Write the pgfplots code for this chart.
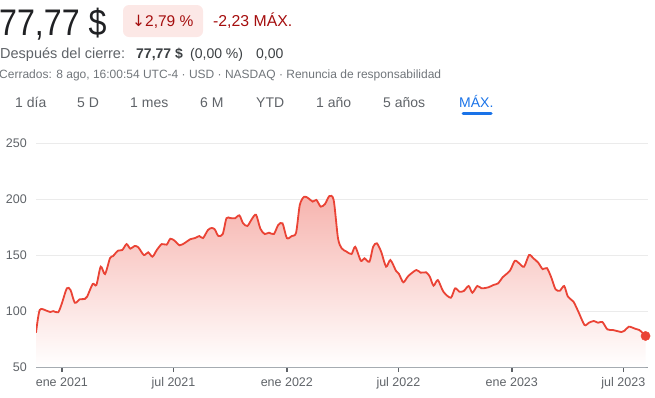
\documentclass[border=0pt]{standalone}
\usepackage{pgfplots}
\pgfplotsset{compat=1.18}
\usepackage{pgfplotstable}
\usepackage{fontspec}
\setmainfont{Liberation Sans}
\newfontfamily\dejavu{DejaVu Sans}
\definecolor{gline}{HTML}{EA4335}
\definecolor{dark}{HTML}{202124}
\definecolor{midgrey}{HTML}{3C4043}
\definecolor{lgrey}{HTML}{70757A}
\definecolor{tgrey}{HTML}{5F6368}
\definecolor{redtxt}{HTML}{A50E0E}
\definecolor{redbox}{HTML}{FCE8E6}
\definecolor{gblue}{HTML}{1A73E8}
\definecolor{gridc}{HTML}{EBEBEB}
\definecolor{axisc}{HTML}{9AA0A6}

\pgfplotstableread{
d v
-42 80.7
-36 101
-25 100.4
-19 99.2
-14 100
-6 99
0 107
8 120.4
14 118.9
21 107.5
29 110.6
37 110.8
41 113
50 124.3
56 123.4
63 139.8
70 133.2
78 147.3
83 149.3
91 154.1
98 154.7
105 160
111 155.9
118 158.3
124 157.1
133 150.2
140 152.6
147 148.7
154 154.7
162 160
170 159.5
176 164.8
183 163
191 158.9
200 161.2
208 164.3
216 165.4
223 167.2
229 165.4
237 172.6
243 174.4
248 173.2
254 167.2
261 169
267 183.1
273 183.3
281 183.1
288 185.7
294 178.6
301 176.2
308 182.2
315 186.3
322 173.8
329 169
336 170.2
344 169
351 177.1
358 178.6
365 165.4
373 167.2
380 170.2
386 195
393 202.4
400 201
407 198
413 199.5
420 193.5
427 195.9
434 203
441 199.4
448 165.2
454 156.2
462 153.2
470 151.1
476 157.6
485 145.1
491 147.3
499 144.2
505 157.6
511 160.7
518 153.2
526 139.8
533 145.7
542 136.2
547 133.2
554 125.8
562 131.4
575 136.8
582 134.4
591 134.7
597 130.8
603 122.8
610 127.8
619 117.4
631 112
638 120.4
645 117.4
652 118
660 122.5
666 116.5
674 122.5
681 120.4
692 121.3
700 123.4
708 124.9
715 130.2
727 136.2
735 145.1
743 142.2
750 139.8
758 150.2
765 147.3
773 143.3
780 137.6
787 138.5
794 130.2
801 119.5
808 118.3
815 122.5
821 113
830 108.5
838 99.5
848 87.6
855 89.6
863 91.2
870 89.6
877 90.3
885 83.7
894 83.1
908 81.3
913 82.5
920 86.1
930 84.3
937 83.1
947 77.77
}\pricedata

\begin{document}
\begin{tikzpicture}[x=1pt,y=1pt]
\useasboundingbox (0,0) rectangle (655,-397);
% header
\node[anchor=base west, inner sep=0, text=dark, font=\fontsize{37}{37}\selectfont] at (-1,-35) {\scalebox{0.87}[1]{77,77 \$}};
\fill[redbox, rounded corners=6pt] (123,-5) rectangle (203,-37);
\node[anchor=base west, inner sep=0, text=redtxt, font=\fontsize{15.5}{15.5}\selectfont] at (132,-26) {{\dejavu ↓}2,79 \%};
\node[anchor=base west, inner sep=0, text=redtxt, font=\fontsize{15.8}{15.8}\selectfont] at (213,-26) {-2,23 MÁX.};
\node[anchor=base west, inner sep=0, text=tgrey, font=\fontsize{14.5}{14.5}\selectfont] at (0,-58) {Después del cierre:};
\node[anchor=base west, inner sep=0, text=midgrey, font=\fontsize{14}{14}\selectfont\bfseries] at (136,-58) {77,77 \$};
\node[anchor=base west, inner sep=0, text=midgrey, font=\fontsize{14}{14}\selectfont] at (190,-58) {(0,00 \%)};
\node[anchor=base west, inner sep=0, text=midgrey, font=\fontsize{14}{14}\selectfont] at (256,-58) {0,00};
\node[anchor=base west, inner sep=0, text=lgrey, font=\fontsize{12}{12}\selectfont] at (-1,-78) {Cerrados: 8 ago, 16:00:54 UTC-4 · USD · NASDAQ · Renuncia de responsabilidad};
\foreach \xx/\tt in {15/1 día, 77/5 D, 130/1 mes, 200/6 M, 256/YTD, 316/1 año, 383/5 años}{
  \node[anchor=base west, inner sep=0, text=tgrey, font=\fontsize{14}{14}\selectfont] at (\xx,-107) {\tt};
}
\node[anchor=base west, inner sep=0, text=gblue, font=\fontsize{14}{14}\selectfont] at (459,-107) {MÁX.};
\draw[gblue, line width=3pt, line cap=round] (463,-113) -- (491,-113);

\begin{axis}[
  at={(36pt,-367pt)}, anchor=south west,
  scale only axis, width=612pt, height=223.5pt,
  xmin=-42, xmax=951, ymin=50, ymax=250,
  axis x line*=bottom, axis y line*=left,
  x axis line style={draw=axisc, line width=1pt},
  y axis line style={draw=none},
  xtick={0,181,365,546,730,911},
  xticklabels={ene 2021, jul 2021, ene 2022, jul 2022, ene 2023, jul 2023},
  ytick={50,100,150,200,250},
  /pgf/number format/assume math mode=true,
  ymajorgrids, grid style={gridc, line width=0.8pt},
  tick align=outside, major tick length=5pt,
  x tick style={draw=tgrey, line width=1.4pt},
  y tick style={draw=none},
  tick label style={font=\fontsize{12.5}{12.5}\selectfont, text=tgrey},
  yticklabel style={anchor=east, inner sep=0pt, xshift=-4pt},
  xticklabel style={anchor=base, inner sep=0pt, yshift=-14pt},
  clip=true,
]
\addplot[draw=none, smooth, tension=0.45, top color=gline!40!white, middle color=gline!13!white, bottom color=white, forget plot]
  table[x=d, y=v] {\pricedata} -- (axis cs:947,50) -- (axis cs:-42,50) -- cycle;
\addplot[gline, line width=1.8pt, smooth, tension=0.45, no markers] table[x=d, y=v] {\pricedata};
\addplot[only marks, mark=*, mark size=4.6pt, gline, draw=gline, fill=gline] coordinates {(947,77.77)};
\end{axis}
\end{tikzpicture}
\end{document}
